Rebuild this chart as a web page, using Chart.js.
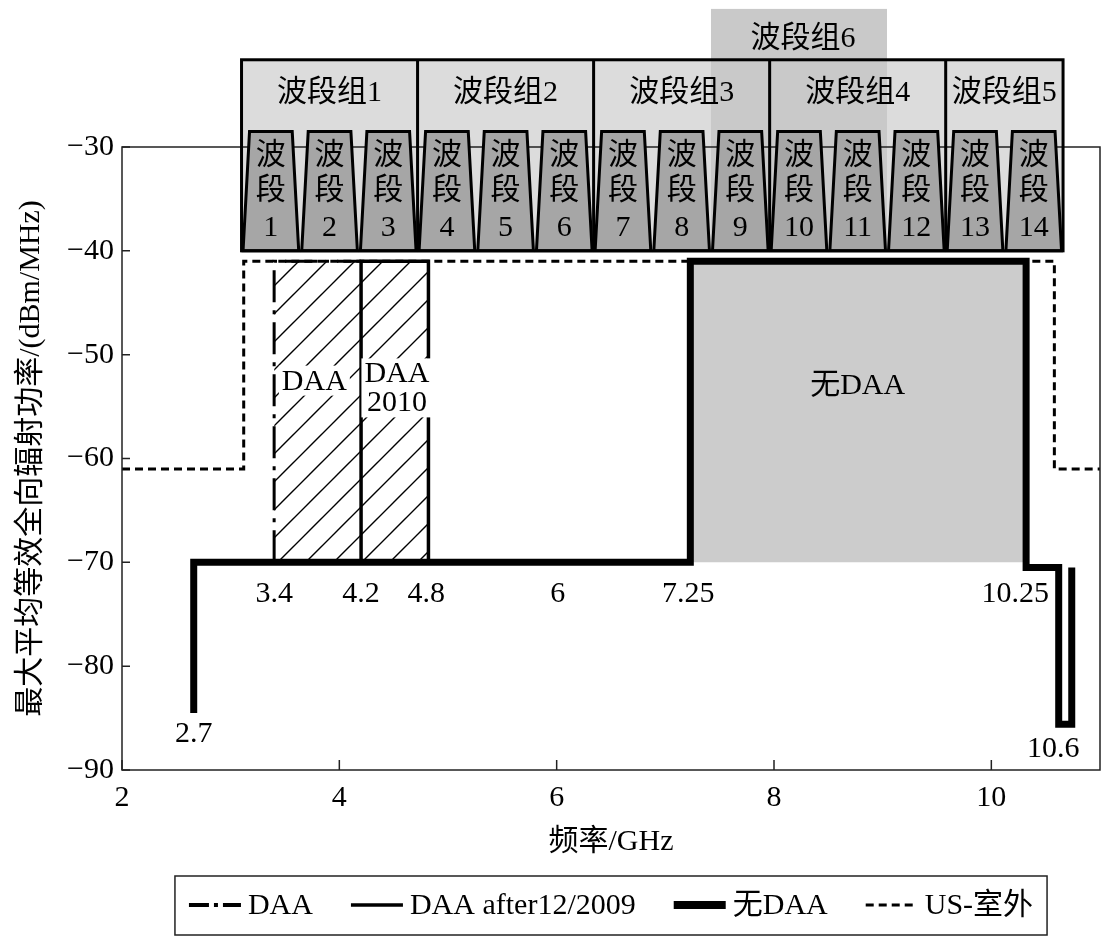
<!DOCTYPE html>
<html>
<head>
<meta charset="utf-8">
<script src="https://cdn.jsdelivr.net/npm/chart.js@4.4.0/dist/chart.umd.min.js"></script>
<style>
  html, body { margin: 0; padding: 0; background: #fff; }
</style>
</head>
<body>
<canvas id="uwbChart" width="1106" height="945"></canvas>
<script>
// step curves, x in GHz, y in dBm/MHz
const daaX = [3.4, 3.4, 4.2];
const daaY = [-70, -41, -41];
const daa2010X = [4.2, 4.2, 4.82, 4.82];
const daa2010Y = [-70, -41, -41, -70];
const noDaaX = [2.66, 2.66, 7.23, 7.23, 10.32, 10.32, 10.62, 10.62, 10.74, 10.74];
const noDaaY = [-84.5, -70, -70, -41, -41, -70.5, -70.5, -85.6, -85.6, -70.5];
const usOutX = [2, 3.12, 3.12, 10.58, 10.58, 11];
const usOutY = [-61, -61, -41, -41, -61, -61];

// shaded areas (filled down to -70)
const hatchX = [3.4, 4.82];
const hatchY = [-41, -41];
const grayX = [7.23, 10.32];
const grayY = [-41, -41];

// frequency marks written under the curves
const markLabels = ['2.7', '3.4', '4.2', '4.8', '6', '7.25', '10.25', '10.6'];
const markX = [2.66, 3.40, 4.20, 4.80, 6.01, 7.21, 10.22, 10.57];
const markY = [-86.5, -73.1, -73.1, -73.1, -73.1, -73.1, -73.1, -88.0];

// region captions
const regionLabels = [['DAA'], ['DAA', '2010'], ['无DAA']];
const regionX = [3.77, 4.53, 8.77];
const regionY = [-52.5, -53.2, -52.9];
const regionBg = [true, true, false];

// UWB band plan
const bandEdges = [3.10, 3.64, 4.18, 4.72, 5.26, 5.80, 6.34, 6.88, 7.42, 7.96, 8.50, 9.04, 9.58, 10.12, 10.66];
const bandNames = ['1', '2', '3', '4', '5', '6', '7', '8', '9', '10', '11', '12', '13', '14'];
const groupNames = ['波段组1', '波段组2', '波段组3', '波段组4', '波段组5'];
const groupFirst = [1, 4, 7, 10, 13];
const groupLast = [3, 6, 9, 12, 14];
const group6Name = '波段组6';
const group6First = 9;
const group6Last = 11;

const yTicks = [-90, -80, -70, -60, -50, -40, -30];

const FONT = '"Liberation Serif", "Noto Sans CJK SC", serif';
const toPts = (xs, ys) => xs.map((v, i) => ({ x: v, y: ys[i] }));

function makeHatch(ctx) {
    const c = document.createElement('canvas');
    c.width = 28; c.height = 28;
    const g = c.getContext('2d');
    g.strokeStyle = '#000';
    g.lineWidth = 1.4;
    g.beginPath();
    g.moveTo(0, 28); g.lineTo(28, 0);
    g.moveTo(-3, 3); g.lineTo(3, -3);
    g.moveTo(25, 31); g.lineTo(31, 25);
    g.stroke();
    return ctx.createPattern(c, 'repeat');
}

const bandPlugin = {
    id: 'bandPlan',
    beforeDraw(chart) {
        const { ctx, scales: { x, y } } = chart;
        const top = y.getPixelForValue(-21.6), bottom = y.getPixelForValue(-40);
        const left = x.getPixelForValue(bandEdges[0]), right = x.getPixelForValue(bandEdges[14]);
        ctx.save();
        ctx.fillStyle = '#dcdcdc';
        ctx.fillRect(left, top, right - left, bottom - top);
        const g6l = x.getPixelForValue(bandEdges[group6First - 1]);
        const g6r = x.getPixelForValue(bandEdges[group6Last]);
        const g6t = y.getPixelForValue(-16.7);
        ctx.fillStyle = '#c9c9c9';
        ctx.fillRect(g6l, g6t, g6r - g6l, bottom - g6t);
        ctx.restore();
    },
    afterDatasetsDraw(chart) {
        const { ctx, chartArea: a, scales: { x, y } } = chart;
        ctx.save();
        // frame and inner ticks
        ctx.strokeStyle = '#222';
        ctx.lineWidth = 1.5;
        ctx.strokeRect(a.left, a.top, a.right - a.left, a.bottom - a.top);
        ctx.beginPath();
        y.ticks.forEach(t => {
            const py = y.getPixelForValue(t.value);
            ctx.moveTo(a.left, py); ctx.lineTo(a.left + 8, py);
        });
        x.ticks.forEach(t => {
            const px = x.getPixelForValue(t.value);
            ctx.moveTo(px, a.bottom); ctx.lineTo(px, a.bottom - 10);
        });
        ctx.stroke();

        // captions
        ctx.font = '30px ' + FONT;
        ctx.textAlign = 'center';
        ctx.textBaseline = 'middle';
        ctx.fillStyle = '#000';
        markLabels.forEach((s, i) => {
            ctx.fillText(s, x.getPixelForValue(markX[i]), y.getPixelForValue(markY[i]));
        });
        regionLabels.forEach((lines, i) => {
            const cx = x.getPixelForValue(regionX[i]);
            const cy = y.getPixelForValue(regionY[i]);
            const lh = 29;
            const w = Math.max(...lines.map(s => ctx.measureText(s).width));
            const y0 = cy - (lines.length - 1) * lh / 2;
            if (regionBg[i]) {
                ctx.fillStyle = '#fff';
                ctx.fillRect(cx - w / 2 - 3, y0 - 15, w + 6, (lines.length - 1) * lh + 30);
            }
            ctx.fillStyle = '#000';
            lines.forEach((s, k) => ctx.fillText(s, cx, y0 + k * lh + 1));
        });
        ctx.restore();
    },
    afterDraw(chart) {
        const { ctx, scales: { x, y } } = chart;
        const top = y.getPixelForValue(-21.6), bottom = y.getPixelForValue(-40);
        const tTop = y.getPixelForValue(-28.5);
        const left = x.getPixelForValue(bandEdges[0]), right = x.getPixelForValue(bandEdges[14]);
        ctx.save();
        ctx.font = '30px ' + FONT;
        ctx.textAlign = 'center';
        ctx.textBaseline = 'middle';
        ctx.lineJoin = 'miter';
        for (let i = 0; i < bandNames.length; i++) {
            const a = x.getPixelForValue(bandEdges[i]);
            const b = x.getPixelForValue(bandEdges[i + 1]);
            ctx.beginPath();
            ctx.moveTo(a + 1.5, bottom);
            ctx.lineTo(a + 8, tTop);
            ctx.lineTo(b - 8, tTop);
            ctx.lineTo(b - 1.5, bottom);
            ctx.closePath();
            ctx.fillStyle = '#a6a6a6';
            ctx.fill();
            ctx.strokeStyle = '#000';
            ctx.lineWidth = 3;
            ctx.stroke();
            const cx = (a + b) / 2;
            ctx.fillStyle = '#000';
            ctx.fillText('波', cx, tTop + 25);
            ctx.fillText('段', cx, tTop + 60);
            ctx.fillText(bandNames[i], cx, tTop + 97);
        }
        // group outlines
        ctx.lineWidth = 3;
        ctx.strokeStyle = '#000';
        ctx.strokeRect(left, top, right - left, bottom - top);
        ctx.beginPath();
        groupLast.slice(0, -1).forEach(n => {
            const px = x.getPixelForValue(bandEdges[n]);
            ctx.moveTo(px, top); ctx.lineTo(px, bottom);
        });
        ctx.stroke();
        groupNames.forEach((s, i) => {
            const a = x.getPixelForValue(bandEdges[groupFirst[i] - 1]);
            const b = x.getPixelForValue(bandEdges[groupLast[i]]);
            ctx.fillText(s, (a + b) / 2, top + 33);
        });
        const g6l = x.getPixelForValue(bandEdges[group6First - 1]);
        const g6r = x.getPixelForValue(bandEdges[group6Last]);
        ctx.fillText(group6Name, (g6l + g6r) / 2 + 4, y.getPixelForValue(-16.7) + 30);

        // legend in a box
        const items = chart.data.datasets.filter(d => d.showInLegend);
        const lineLen = 52, textGap = 7, itemGap = 38, pad = 14;
        let total = 0;
        items.forEach((d, i) => {
            total += lineLen + textGap + ctx.measureText(d.label).width + (i ? itemGap : 0);
        });
        const ca = chart.chartArea;
        let px = (ca.left + ca.right) / 2 - total / 2;
        const midY = 905;
        ctx.lineWidth = 1.5;
        ctx.strokeStyle = '#222';
        ctx.setLineDash([]);
        ctx.strokeRect(px - pad, 876, total + 2 * pad, 59);
        ctx.textAlign = 'left';
        items.forEach(d => {
            ctx.beginPath();
            ctx.setLineDash(d.legendDash || d.borderDash || []);
            ctx.lineWidth = d.legendWidth || d.borderWidth;
            ctx.strokeStyle = '#000';
            ctx.moveTo(px, midY); ctx.lineTo(px + lineLen, midY);
            ctx.stroke();
            ctx.setLineDash([]);
            px += lineLen + textGap;
            ctx.fillText(d.label, px, midY + 1);
            px += ctx.measureText(d.label).width + itemGap;
        });
        ctx.restore();
    }
};

const ctx = document.getElementById('uwbChart').getContext('2d');
const lineBase = { borderColor: '#000', pointRadius: 0, tension: 0, borderCapStyle: 'butt', borderJoinStyle: 'miter', fill: false };

new Chart(ctx, {
    type: 'line',
    data: {
        datasets: [
            { ...lineBase, label: 'DAA', data: toPts(daaX, daaY), borderWidth: 3, borderDash: [32, 8, 4, 8],
              legendDash: [20, 5, 4, 5], legendWidth: 4, showInLegend: true, order: 3 },
            { ...lineBase, label: 'DAA after12/2009', data: toPts(daa2010X, daa2010Y), borderWidth: 3.5,
              showInLegend: true, order: 2 },
            { ...lineBase, label: '无DAA', data: toPts(noDaaX, noDaaY), borderWidth: 7,
              legendWidth: 8, showInLegend: true, order: 1 },
            { ...lineBase, label: 'US-室外', data: toPts(usOutX, usOutY), borderWidth: 3, borderDash: [8, 5],
              showInLegend: true, order: 4 },
            { ...lineBase, label: 'hatch', data: toPts(hatchX, hatchY), borderWidth: 0,
              backgroundColor: makeHatch(ctx), fill: { value: -70 }, order: 9 },
            { ...lineBase, label: 'gray', data: toPts(grayX, grayY), borderWidth: 0,
              backgroundColor: '#cccccc', fill: { value: -70 }, order: 9 }
        ]
    },
    options: {
        responsive: false,
        animation: false,
        devicePixelRatio: 1,
        layout: { padding: { top: 147, right: 6, bottom: 83, left: 0 } },
        plugins: {
            legend: { display: false },
            tooltip: { enabled: false }
        },
        scales: {
            x: {
                type: 'linear',
                min: 2,
                max: 11,
                afterFit: s => { s.height = 92; },
                grid: { display: false, drawTicks: false },
                border: { display: false },
                ticks: { stepSize: 2, includeBounds: false, padding: 10, color: '#000',
                         font: { family: FONT, size: 30 } },
                title: { display: true, text: '频率/GHz', color: '#000', padding: { top: 0, bottom: 2 },
                         font: { family: FONT, size: 30 } }
            },
            y: {
                min: -90,
                max: -30,
                afterFit: s => { s.width = 122; },
                afterBuildTicks: s => { s.ticks = yTicks.map(v => ({ value: v })); },
                grid: { display: false, drawTicks: false },
                border: { display: false },
                ticks: { padding: 8, color: '#000', font: { family: FONT, size: 30 },
                         callback: v => (v < 0 ? '\u2212' + Math.abs(v) : String(v)) },
                title: { display: true, text: '最大平均等效全向辐射功率/(dBm/MHz)', color: '#000',
                         padding: { top: 13, bottom: 0 }, font: { family: FONT, size: 30 } }
            }
        }
    },
    plugins: [bandPlugin]
});
</script>
</body>
</html>
